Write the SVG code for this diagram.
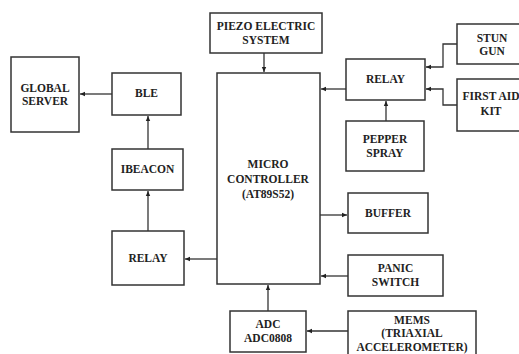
<svg xmlns="http://www.w3.org/2000/svg" width="519" height="354" viewBox="0 0 519 354">
<style>
.box{fill:#fff;stroke:#333;stroke-width:1.5}
.t{font-family:"Liberation Serif","Times New Roman",serif;font-weight:bold;font-size:11.5px;fill:#222;text-anchor:middle}
.c{fill:none;stroke:#333;stroke-width:1.3}
</style>
<defs>
<marker id="a" markerWidth="6" markerHeight="6" refX="5" refY="3" orient="auto" markerUnits="userSpaceOnUse">
<path d="M0,0.8 L5,3 L0,5.2 Z" fill="#222"/>
</marker>
</defs>
<rect width="519" height="354" fill="#fff"/>
<g id="global-server"><rect class="box" x="11" y="57" width="68" height="75"/><text class="t" x="45" y="92">GLOBAL</text><text class="t" x="45" y="105">SERVER</text></g>
<g id="ble"><rect class="box" x="112" y="73" width="69" height="42"/><text class="t" x="146.5" y="97">BLE</text></g>
<g id="ibeacon"><rect class="box" x="112" y="149" width="71" height="41"/><text class="t" x="147.5" y="173">IBEACON</text></g>
<g id="relay-left"><rect class="box" x="112" y="231" width="72" height="54"/><text class="t" x="148" y="262">RELAY</text></g>
<g id="microcontroller"><rect class="box" x="217" y="73" width="103" height="211"/><text class="t" x="268" y="168">MICRO</text><text class="t" x="268" y="183">CONTROLLER</text><text class="t" x="268" y="198">(AT89S52)</text></g>
<g id="piezo"><rect class="box" x="210" y="13" width="112" height="40"/><text class="t" x="266" y="30">PIEZO ELECTRIC</text><text class="t" x="266" y="44">SYSTEM</text></g>
<g id="relay-right"><rect class="box" x="346" y="59" width="79" height="41"/><text class="t" x="385.5" y="83">RELAY</text></g>
<g id="stun-gun"><rect class="box" x="457" y="24" width="70" height="40"/><text class="t" x="492" y="42">STUN</text><text class="t" x="492" y="55">GUN</text></g>
<g id="first-aid-kit"><rect class="box" x="457" y="79" width="70" height="52"/><text class="t" x="491" y="100">FIRST AID</text><text class="t" x="491" y="115">KIT</text></g>
<g id="pepper-spray"><rect class="box" x="346" y="121" width="78" height="50"/><text class="t" x="385" y="143">PEPPER</text><text class="t" x="385" y="157">SPRAY</text></g>
<g id="buffer"><rect class="box" x="348" y="193" width="80" height="40"/><text class="t" x="388" y="217">BUFFER</text></g>
<g id="panic-switch"><rect class="box" x="348" y="255" width="95" height="41"/><text class="t" x="395.5" y="272">PANIC</text><text class="t" x="395.5" y="286">SWITCH</text></g>
<g id="adc"><rect class="box" x="230" y="311" width="76" height="41"/><text class="t" x="268" y="328">ADC</text><text class="t" x="268" y="342">ADC0808</text></g>
<g id="mems"><rect class="box" x="348" y="311" width="128" height="50"/><text class="t" x="412" y="324">MEMS</text><text class="t" x="412" y="337">(TRIAXIAL</text><text class="t" x="412" y="351">ACCELEROMETER)</text></g>
<g id="connectors">
<path class="c" d="M112,94 H80" marker-end="url(#a)"/>
<path class="c" d="M148,149 V116" marker-end="url(#a)"/>
<path class="c" d="M148,231 V191" marker-end="url(#a)"/>
<path class="c" d="M217,259 H185" marker-end="url(#a)"/>
<path class="c" d="M264,53 V72" marker-end="url(#a)"/>
<path class="c" d="M346,89 H321" marker-end="url(#a)"/>
<path class="c" d="M457,44 H443 V67 H426" marker-end="url(#a)"/>
<path class="c" d="M457,105 H443 V89 H426" marker-end="url(#a)"/>
<path class="c" d="M386,121 V101" marker-end="url(#a)"/>
<path class="c" d="M320,215 H347" marker-end="url(#a)"/>
<path class="c" d="M348,276 H321" marker-end="url(#a)"/>
<path class="c" d="M268,311 V285" marker-end="url(#a)"/>
<path class="c" d="M348,331 H307" marker-end="url(#a)"/>
</g>
</svg>
